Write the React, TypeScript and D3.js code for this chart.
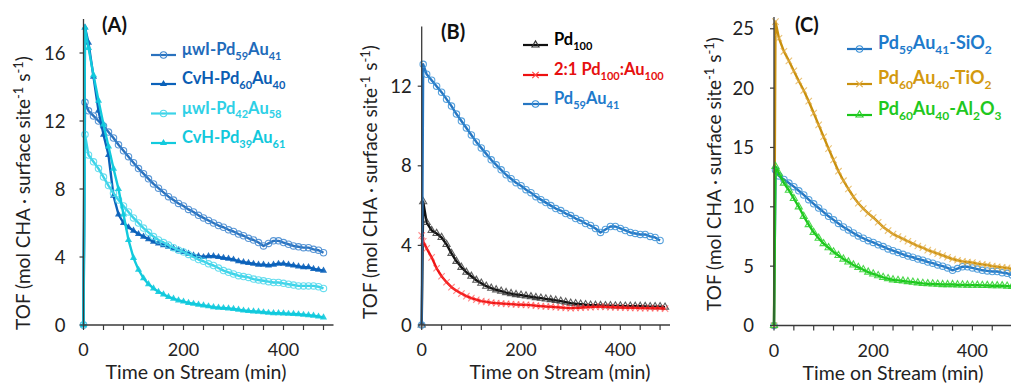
import React from "react";
import * as d3 from "d3";

// Time on stream (min) at which each TOF value was recorded
const minutes = [
  0, 3, 10, 20, 30, 40, 50, 60, 70, 80, 90, 100, 110, 120, 130, 140, 150, 160, 170, 180,
  190, 200, 210, 220, 230, 240, 250, 260, 270, 280, 290, 300, 310, 320, 330, 340, 350,
  360, 370, 380, 390, 400, 410, 420, 430, 440, 450, 460, 470, 480, 490,
];

// TOF values (mol CHA · surface site^-1 s^-1)
const pd59au41 = [
  0, 13.1, 12.6, 12.3, 12.0, 11.7, 11.35, 11.0, 10.6, 10.25, 9.9, 9.55, 9.2, 8.9, 8.6, 8.3,
  8.05, 7.8, 7.55, 7.35, 7.15, 7.0, 6.8, 6.65, 6.45, 6.3, 6.15, 6.0, 5.85, 5.75, 5.6, 5.5,
  5.35, 5.25, 5.1, 5.0, 4.85, 4.65, 4.8, 4.95, 4.95, 4.85, 4.75, 4.65, 4.6, 4.55, 4.55,
  4.45, 4.4, 4.25,
];
const cvhPd60au40 = [
  0, 17.5, 16.6, 14.6, 12.6, 11.2, 10.0, 7.6, 6.5, 6.0, 5.75, 5.55, 5.35, 5.2, 5.05, 4.9,
  4.8, 4.7, 4.6, 4.5, 4.4, 4.3, 4.2, 4.1, 4.05, 4.0, 4.05, 4.05, 4.0, 3.95, 3.9, 3.85, 3.75,
  3.7, 3.65, 3.6, 3.55, 3.55, 3.5, 3.55, 3.6, 3.6, 3.55, 3.5, 3.45, 3.4, 3.4, 3.3, 3.25, 3.2,
];
const uwlPd42au58 = [
  0, 11.2, 10.0, 9.6, 9.2, 8.7, 8.2, 7.75, 7.35, 7.0, 6.65, 6.3, 6.0, 5.7, 5.45, 5.2, 5.0,
  4.85, 4.7, 4.55, 4.4, 4.3, 4.15, 4.0, 3.85, 3.75, 3.6, 3.5, 3.35, 3.2, 3.1, 3.0, 2.9, 2.85,
  2.8, 2.7, 2.65, 2.6, 2.55, 2.5, 2.5, 2.45, 2.4, 2.35, 2.3, 2.3, 2.3, 2.3, 2.25, 2.15,
];
const cvhPd39au61 = [
  0, 17.5, 16.3, 14.7, 13.2, 11.8, 10.5, 9.2, 8.0, 6.5, 5.0, 3.95, 3.25, 2.75, 2.4, 2.15,
  1.95, 1.8, 1.65, 1.55, 1.45, 1.38, 1.3, 1.25, 1.2, 1.15, 1.1, 1.05, 1.02, 1.0, 0.98, 0.95,
  0.9, 0.85, 0.82, 0.8, 0.78, 0.75, 0.72, 0.7, 0.7, 0.68, 0.66, 0.65, 0.63, 0.6, 0.58, 0.55,
  0.5, 0.45,
];
const pd100 = [
  0, 6.2, 5.15, 4.75, 4.6, 4.4, 4.05, 3.6, 3.2, 2.9, 2.65, 2.45, 2.25, 2.1, 1.95, 1.85, 1.77,
  1.7, 1.63, 1.58, 1.53, 1.5, 1.46, 1.42, 1.38, 1.35, 1.31, 1.28, 1.24, 1.2, 1.15, 1.1, 1.07,
  1.05, 1.02, 1.0, 0.99, 0.98, 0.97, 0.97, 0.96, 0.96, 0.95, 0.95, 0.94, 0.94, 0.93, 0.92,
  0.92, 0.92, 0.9,
];
const pd100au100Mix = [
  4.5, 4.2, 3.85, 3.4, 2.85, 2.45, 2.15, 1.9, 1.72, 1.58, 1.45, 1.35, 1.27, 1.2, 1.16, 1.12,
  1.1, 1.08, 1.06, 1.05, 1.03, 1.02, 1.01, 1.0, 0.97, 0.95, 0.93, 0.92, 0.9, 0.88, 0.86, 0.85,
  0.86, 0.87, 0.89, 0.9, 0.91, 0.92, 0.91, 0.9, 0.89, 0.88, 0.87, 0.86, 0.86, 0.85, 0.85,
  0.85, 0.84, 0.84, 0.82,
];
const pd60au40TiO2 = [
  0, 25.6, 24.2, 23.1, 22.3, 21.45, 20.6, 19.8, 18.9, 17.9, 16.9, 15.9, 14.9, 13.95, 13.0,
  12.2, 11.5, 10.85, 10.3, 9.85, 9.45, 9.1, 8.7, 8.3, 8.0, 7.7, 7.5, 7.3, 7.1, 6.9, 6.7, 6.55,
  6.35, 6.2, 6.05, 5.9, 5.75, 5.6, 5.5, 5.4, 5.35, 5.3, 5.2, 5.15, 5.1, 5.0, 4.95, 4.9, 4.85,
  4.75, 4.7,
];
const pd60au40Al2O3 = [
  0, 13.4, 12.8, 12.0, 11.4, 10.7, 10.0, 9.2, 8.5, 7.85, 7.35, 6.9, 6.55, 6.2, 5.9, 5.6, 5.35,
  5.1, 4.9, 4.7, 4.5, 4.35, 4.2, 4.05, 3.95, 3.85, 3.8, 3.75, 3.7, 3.65, 3.6, 3.55, 3.52, 3.5,
  3.48, 3.45, 3.45, 3.45, 3.43, 3.42, 3.41, 3.4, 3.39, 3.38, 3.37, 3.35, 3.35, 3.35, 3.32,
  3.3, 3.3,
];

// Axis ticks
const xTicks = [0, 40, 80, 120, 160, 200, 240, 280, 320, 360, 400, 440, 480];
const xTickLabels = [0, 200, 400];
const yTicksA = [0, 4, 8, 12, 16];
const yTicksB = [0, 4, 8, 12];
const yTicksC = [0, 5, 10, 15, 20, 25];

type Seg = { t: string; sub?: boolean; sup?: boolean };
type MarkerKind = "circle" | "triFill" | "triOpen" | "cross";

const FONT = "Lato, 'Open Sans', sans-serif";

const labelPd59Au41: Seg[] = [{ t: "Pd" }, { t: "59", sub: true }, { t: "Au" }, { t: "41", sub: true }];

interface Series {
  values: number[];
  color: string;
  markColor: string;
  markOpacity: number;
  textColor: string;
  marker: MarkerKind;
  label: Seg[];
}

interface Panel {
  id: string;
  xRange: [number, number];
  yMax: number;
  yRange: [number, number];
  yTicks: number[];
  tickGap: number;
  title: string;
  titleX: number;
  titleY: number;
  yLabelX: number;
  yLabelCY: number;
  xLabelCX: number;
  xLabelY: number;
  legendX: number;
  legendYs: number[];
  legendFont: number;
  series: Series[];
}

const BLUE = "#2676C2";

const panels: Panel[] = [
  {
    id: "A",
    xRange: [83.5, 333.5],
    yMax: 18,
    yRange: [325, 19],
    yTicks: yTicksA,
    tickGap: 18,
    title: "(A)",
    titleX: 102,
    titleY: 32,
    yLabelX: 30,
    yLabelCY: 193,
    xLabelCX: 196,
    xLabelY: 379,
    legendX: 151,
    legendYs: [55, 84, 113.5, 143],
    legendFont: 16.5,
    series: [
      {
        values: pd59au41, color: "#2A72BE", markColor: "#3F86CF", markOpacity: 0.85, textColor: "#1F6BBA",
        marker: "circle",
        label: [{ t: "μwI-Pd" }, { t: "59", sub: true }, { t: "Au" }, { t: "41", sub: true }],
      },
      {
        values: cvhPd60au40, color: "#0B62BA", markColor: "#0B62BA", markOpacity: 0.9, textColor: "#0A5DB3",
        marker: "triFill",
        label: [{ t: "CvH-Pd" }, { t: "60", sub: true }, { t: "Au" }, { t: "40", sub: true }],
      },
      {
        values: uwlPd42au58, color: "#3CD3E8", markColor: "#4FD8EC", markOpacity: 0.85, textColor: "#2ED0E6",
        marker: "circle",
        label: [{ t: "μwI-Pd" }, { t: "42", sub: true }, { t: "Au" }, { t: "58", sub: true }],
      },
      {
        values: cvhPd39au61, color: "#12CADD", markColor: "#12CADD", markOpacity: 0.9, textColor: "#12C8DC",
        marker: "triFill",
        label: [{ t: "CvH-Pd" }, { t: "39", sub: true }, { t: "Au" }, { t: "61", sub: true }],
      },
    ],
  },
  {
    id: "B",
    xRange: [421.7, 670],
    yMax: 15,
    yRange: [325, 26.5],
    yTicks: yTicksB,
    tickGap: 10,
    title: "(B)",
    titleX: 441,
    titleY: 39,
    yLabelX: 377,
    yLabelCY: 182,
    xLabelCX: 560,
    xLabelY: 379,
    legendX: 523,
    legendYs: [45, 75, 104],
    legendFont: 16.5,
    series: [
      {
        values: pd100, color: "#111111", markColor: "#333333", markOpacity: 0.8, textColor: "#000000",
        marker: "triOpen",
        label: [{ t: "Pd" }, { t: "100", sub: true }],
      },
      {
        values: pd100au100Mix, color: "#EE1111", markColor: "#FF4040", markOpacity: 0.6, textColor: "#E61010",
        marker: "cross",
        label: [{ t: "2:1 Pd" }, { t: "100", sub: true }, { t: ":Au" }, { t: "100", sub: true }],
      },
      {
        values: pd59au41, color: BLUE, markColor: "#3A90D6", markOpacity: 0.85, textColor: "#1E7ACB",
        marker: "circle",
        label: labelPd59Au41,
      },
    ],
  },
  {
    id: "C",
    xRange: [774, 1022],
    yMax: 26,
    yRange: [325.5, 16.9],
    yTicks: yTicksC,
    tickGap: 20,
    title: "(C)",
    titleX: 795,
    titleY: 32,
    yLabelX: 721,
    yLabelCY: 174,
    xLabelCX: 893,
    xLabelY: 379.5,
    legendX: 847,
    legendYs: [49, 84, 115],
    legendFont: 18,
    series: [
      {
        values: pd59au41, color: BLUE, markColor: "#3A90D6", markOpacity: 0.85, textColor: "#1E7ACB",
        marker: "circle",
        label: [...labelPd59Au41, { t: "-SiO" }, { t: "2", sub: true }],
      },
      {
        values: pd60au40TiO2, color: "#C9900E", markColor: "#E3AE45", markOpacity: 0.75, textColor: "#D3990F",
        marker: "cross",
        label: [{ t: "Pd" }, { t: "60", sub: true }, { t: "Au" }, { t: "40", sub: true }, { t: "-TiO" }, { t: "2", sub: true }],
      },
      {
        values: pd60au40Al2O3, color: "#1BC61B", markColor: "#2BD02B", markOpacity: 0.85, textColor: "#1FC81F",
        marker: "triOpen",
        label: [
          { t: "Pd" }, { t: "60", sub: true }, { t: "Au" }, { t: "40", sub: true },
          { t: "-Al" }, { t: "2", sub: true }, { t: "O" }, { t: "3", sub: true },
        ],
      },
    ],
  },
];

const triPath = d3.symbol(d3.symbolTriangle, 22)() as string;
const crossPath = "M-3.2,-3.2L3.2,3.2M-3.2,3.2L3.2,-3.2";

function Marker({ kind, x, y, color, opacity }: { kind: MarkerKind; x: number; y: number; color: string; opacity: number }) {
  if (kind === "circle") {
    return <circle cx={x} cy={y} r={3.2} fill="none" stroke={color} strokeWidth={1.1} opacity={opacity} />;
  }
  if (kind === "triFill") {
    return <path d={triPath} transform={`translate(${x},${y})`} fill={color} opacity={opacity} />;
  }
  if (kind === "triOpen") {
    return <path d={triPath} transform={`translate(${x},${y})`} fill="none" stroke={color} strokeWidth={1.1} opacity={opacity} />;
  }
  return <path d={crossPath} transform={`translate(${x},${y})`} fill="none" stroke={color} strokeWidth={1.1} opacity={opacity} />;
}

function RichSpans({ segs, fs }: { segs: Seg[]; fs: number }) {
  let shift = 0;
  const small = Math.round(fs * 0.68);
  return (
    <>
      {segs.map((s, i) => {
        const target = s.sub ? fs * 0.28 : s.sup ? -fs * 0.38 : 0;
        const dy = target - shift;
        shift = target;
        return (
          <tspan key={i} dy={dy} fontSize={s.sub || s.sup ? small : fs}>
            {s.t}
          </tspan>
        );
      })}
    </>
  );
}

const yTitle: Seg[] = [
  { t: "TOF (mol CHA · surface site" },
  { t: "-1", sup: true },
  { t: " s" },
  { t: "-1", sup: true },
  { t: ")" },
];

function PanelView({ p }: { p: Panel }) {
  const xs = d3.scaleLinear().domain([0, 500]).range(p.xRange);
  const ys = d3.scaleLinear().domain([0, p.yMax]).range(p.yRange);
  const line = d3
    .line<[number, number]>()
    .x((d) => xs(d[0]))
    .y((d) => ys(d[1]));
  const axisColor = "#3a3a3a";
  const y0 = ys(0);

  return (
    <g>
      {/* series */}
      {p.series.map((s, si) => {
        const pts: [number, number][] = s.values.map((v, i) => [minutes[i], v]);
        return (
          <g key={si}>
            <path d={line(pts) as string} fill="none" stroke={s.color} strokeWidth={2.4} strokeLinejoin="round" />
            {pts.map((d, i) => (
              <Marker key={i} kind={s.marker} x={xs(d[0])} y={ys(d[1])} color={s.markColor} opacity={s.markOpacity} />
            ))}
          </g>
        );
      })}

      {/* axes */}
      <line x1={xs(0)} x2={xs(0)} y1={y0} y2={ys(p.yMax)} stroke={axisColor} strokeWidth={1.3} />
      <line x1={xs(0)} x2={xs(500)} y1={y0} y2={y0} stroke={axisColor} strokeWidth={1.3} />
      {p.yTicks.map((t) => (
        <g key={t}>
          <line x1={xs(0) - 4} x2={xs(0)} y1={ys(t)} y2={ys(t)} stroke={axisColor} strokeWidth={1.2} />
          <text x={xs(0) - p.tickGap} y={ys(t)} dy="0.36em" textAnchor="end" fontSize={18.5} fill="#222" fontFamily={FONT}>
            {t}
          </text>
        </g>
      ))}
      {xTicks.map((t) => (
        <line key={t} x1={xs(t)} x2={xs(t)} y1={y0} y2={y0 + 5} stroke={axisColor} strokeWidth={1.2} />
      ))}
      {xTickLabels.map((t) => (
        <text key={t} x={xs(t)} y={y0 + 31} textAnchor="middle" fontSize={18} fill="#222" fontFamily={FONT}>
          {t}
        </text>
      ))}

      {/* axis titles */}
      <text x={p.xLabelCX} y={p.xLabelY} textAnchor="middle" fontSize={19.5} fill="#222" fontFamily={FONT}>
        Time on Stream (min)
      </text>
      <text
        transform={`translate(${p.yLabelX},${p.yLabelCY}) rotate(-90)`}
        textAnchor="middle"
        fontSize={19}
        fill="#222"
        fontFamily={FONT}
      >
        <RichSpans segs={yTitle} fs={19} />
      </text>

      {/* panel title */}
      <text x={p.titleX} y={p.titleY} fontSize={20} fontWeight="bold" fill="#111" fontFamily={FONT}>
        {p.title}
      </text>

      {/* legend */}
      {p.series.map((s, si) => {
        const ly = p.legendYs[si];
        const lx = p.legendX;
        return (
          <g key={si}>
            <line x1={lx} x2={lx + 25} y1={ly} y2={ly} stroke={s.color} strokeWidth={2.2} />
            <Marker kind={s.marker} x={lx + 12.5} y={ly} color={s.markColor} opacity={1} />
            <text x={lx + 31} y={ly} dy="0.35em" fontSize={p.legendFont} fontWeight="bold" fill={s.textColor} fontFamily={FONT}>
              <RichSpans segs={s.label} fs={p.legendFont} />
            </text>
          </g>
        );
      })}
    </g>
  );
}

export default function App() {
  return (
    <svg
      width={1011}
      height={385}
      style={{ position: "absolute", left: 0, top: 0, background: "#fff" }}
    >
      <rect x={0} y={0} width={1011} height={385} fill="#fff" />
      {panels.map((p) => (
        <PanelView key={p.id} p={p} />
      ))}
    </svg>
  );
}
